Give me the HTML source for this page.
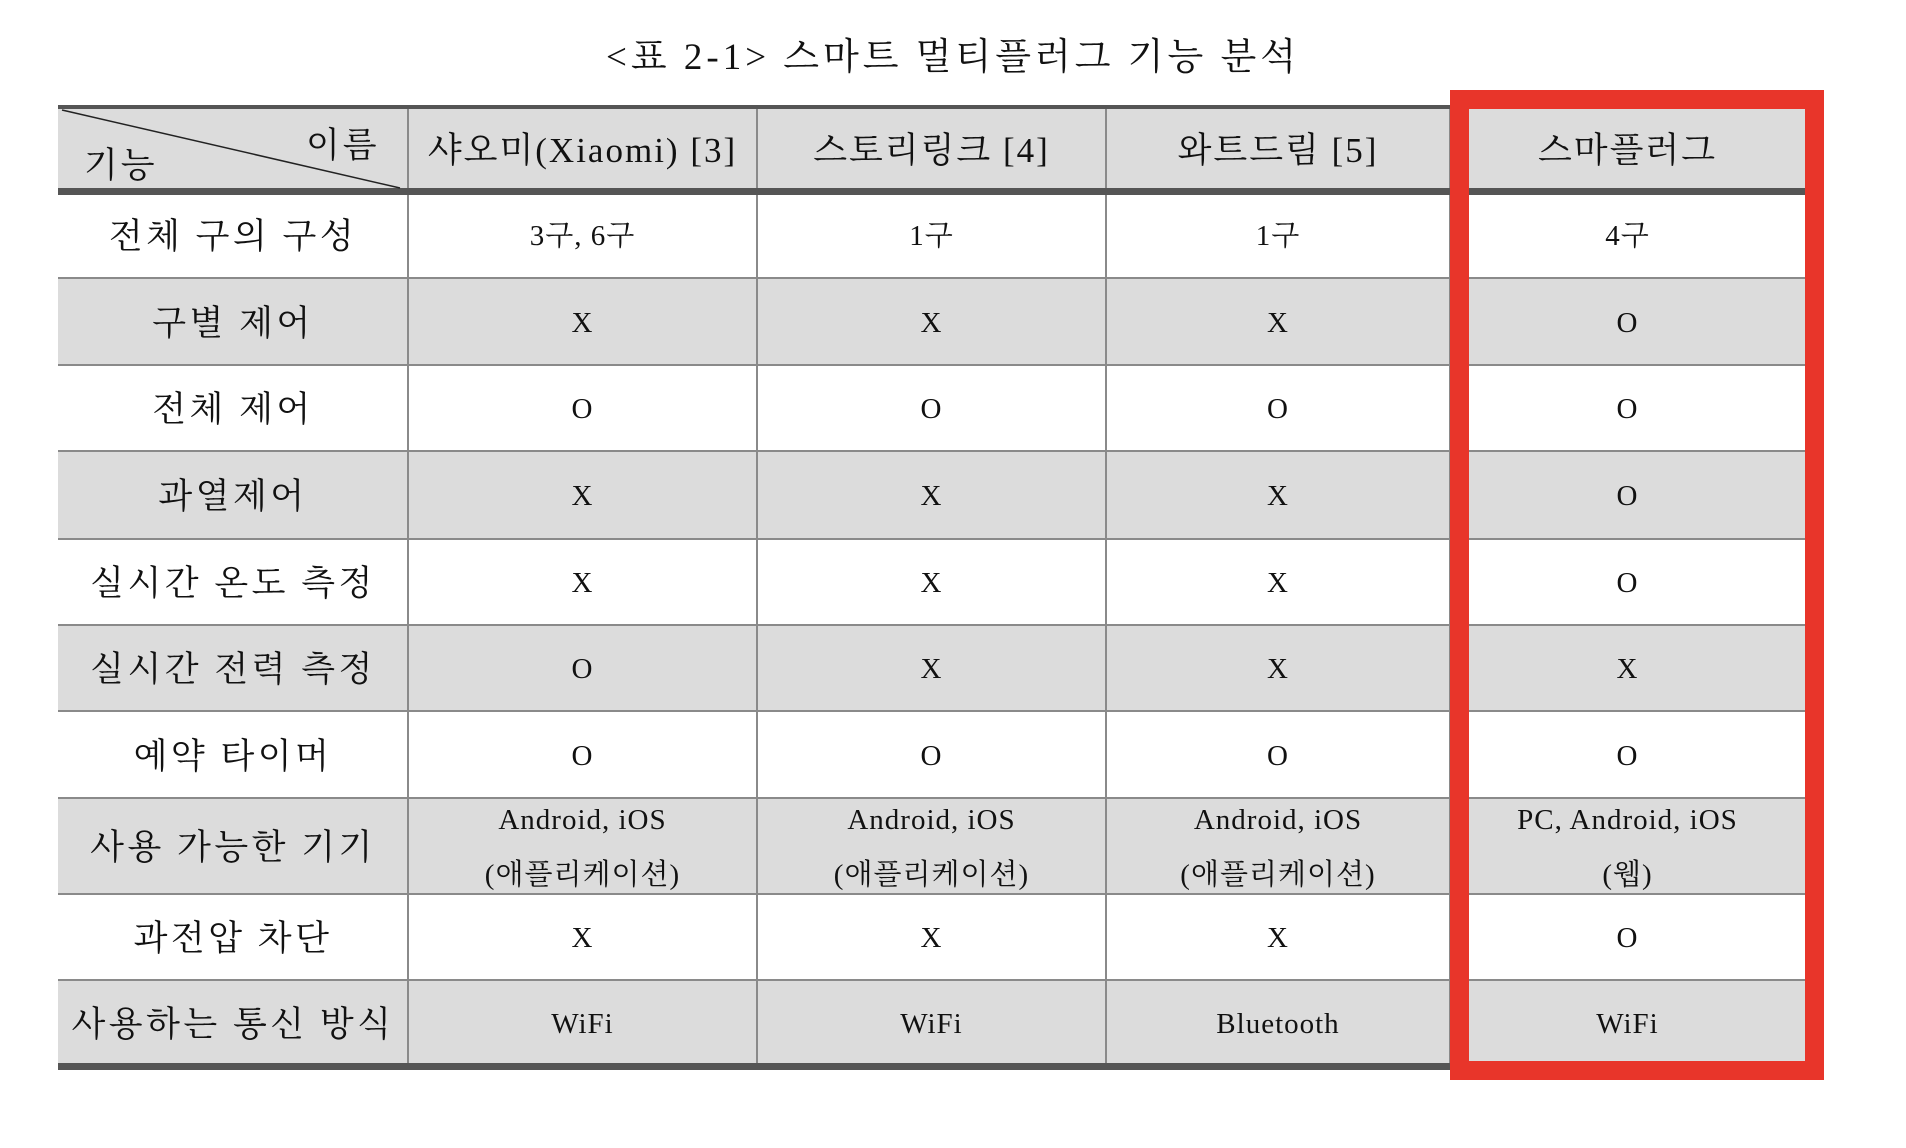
<!DOCTYPE html>
<html><head><meta charset="utf-8"><style>
body{margin:0;width:1906px;height:1148px;background:#fff;position:relative;overflow:hidden;font-family:"Liberation Serif","Noto Serif CJK SC",serif;color:#111}
.a{position:absolute}
.c{position:absolute;display:flex;align-items:center;justify-content:center;text-align:center;line-height:1.6}
.h{font-size:35px}
.d{font-size:29px}
.k{font-size:35px;letter-spacing:3.5px}
</style></head><body>
<div class="c" style="left:0;width:1906px;top:33px;height:50px;font-size:37px;letter-spacing:4px">&lt;표 2-1&gt; 스마트 멀티플러그 기능 분석</div>
<div id="t"></div>
<script>
const colX=[58,408,757,1106,1450,1805];
const rowY=[107,191,278,365,451,539,625,711,798,894,980,1066];
const headers=["샤오미(Xiaomi) [3]","스토리링크 [4]","와트드림 [5]","스마플러그"];
const features=["전체 구의 구성","구별 제어","전체 제어","과열제어","실시간 온도 측정","실시간 전력 측정","예약 타이머","사용 가능한 기기","과전압 차단","사용하는 통신 방식"];
const cells=[
["3구, 6구","1구","1구","4구"],
["X","X","X","O"],["O","O","O","O"],["X","X","X","O"],["X","X","X","O"],
["O","X","X","X"],["O","O","O","O"],
["Android, iOS<br>(애플리케이션)","Android, iOS<br>(애플리케이션)","Android, iOS<br>(애플리케이션)","PC, Android, iOS<br>(웹)"],
["X","X","X","O"],["WiFi","WiFi","Bluetooth","WiFi"]];
const t=document.getElementById('t');
let h='';
for(let r=0;r<11;r++){
  const gray=(r===0||r%2===0);
  h+=`<div class="a" style="left:${colX[0]}px;width:${colX[5]-colX[0]}px;top:${rowY[r]}px;height:${rowY[r+1]-rowY[r]}px;background:${gray?'#dcdcdc':'#fff'}"></div>`;
}
for(let r=2;r<11;r++) h+=`<div class="a" style="left:${colX[0]}px;width:${colX[5]-colX[0]}px;top:${rowY[r]-1}px;height:2px;background:#8a8a8a"></div>`;
for(let c=1;c<5;c++) h+=`<div class="a" style="left:${colX[c]-1}px;width:2px;top:${rowY[0]}px;height:${rowY[11]-rowY[0]}px;background:#8a8a8a"></div>`;
[[rowY[0],4],[rowY[1],7],[rowY[11],7]].forEach(([y,w])=>h+=`<div class="a" style="left:${colX[0]}px;width:${colX[5]-colX[0]}px;top:${y-w/2}px;height:${w}px;background:#555"></div>`);
h+=`<svg class="a" style="left:0;top:0" width="1906" height="300"><line x1="${colX[0]+4}" y1="${rowY[0]+3}" x2="${colX[1]-8}" y2="${rowY[1]-3}" stroke="#222" stroke-width="1.5"/></svg>`;
h+=`<div class="a h" style="left:306px;top:118px;letter-spacing:3px">이름</div>`;
h+=`<div class="a h" style="left:84px;top:138px;letter-spacing:3px">기능</div>`;
headers.forEach((s,i)=>h+=`<div class="c h" style="left:${colX[i+1]}px;width:${colX[i+2]-colX[i+1]}px;top:${rowY[0]+2}px;height:${rowY[1]-rowY[0]}px;letter-spacing:2px">${s}</div>`);
features.forEach((s,r)=>{
  h+=`<div class="c k" style="left:${colX[0]}px;width:${colX[1]-colX[0]}px;top:${rowY[r+1]+2}px;height:${rowY[r+2]-rowY[r+1]}px">${s}</div>`;
  cells[r].forEach((v,c)=>h+=`<div class="c d" style="left:${colX[c+1]}px;width:${colX[c+2]-colX[c+1]}px;top:${rowY[r+1]+2}px;height:${rowY[r+2]-rowY[r+1]}px;line-height:1.9;letter-spacing:1px">${v}</div>`);
});
h+=`<div class="a" style="left:1450px;top:90px;width:336px;height:952px;border:19px solid #e8352a"></div>`;
t.innerHTML=h;
</script>
</body></html>
